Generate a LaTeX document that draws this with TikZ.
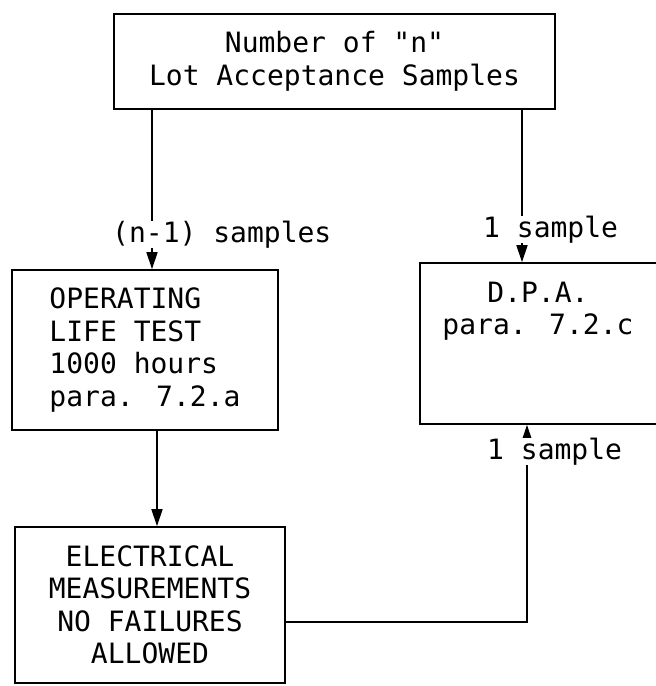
\documentclass[tikz,border=0pt]{standalone}
\usepackage{fontspec}
\usepackage{tikz}
\usetikzlibrary{arrows.meta, positioning, calc}
\newfontfamily\typewriter{DejaVu Sans Mono}

\begin{document}
\begin{tikzpicture}[
    x=1pt, y=-1pt,
    base/.style={draw, line width=1.6pt, fill=white, align=center, inner sep=0pt, font=\fontsize{28pt}{32.5pt}\selectfont\typewriter},
    plain/.style={align=center, inner sep=0pt, font=\fontsize{28pt}{32.5pt}\selectfont\typewriter},
    tag/.style={plain, fill=white},
    arrow/.style={-{Triangle[length=17pt, width=11pt]}, line width=1.6pt}
]

    % --- CANVAS ---
    \useasboundingbox (0,0) rectangle (656,686);
    \clip (0,0) rectangle (656,686);

    % --- TOP: LOT SAMPLES ---
    \node[base, minimum width=441pt, minimum height=95pt] (lot) at (334.5, 61.5) {Number of "n"\\ Lot Acceptance Samples};

    % --- MIDDLE: LIFE TEST AND D.P.A. ---
    \node[base, align=left, minimum width=266pt, minimum height=160pt] (ops) at (145, 350) {OPERATING\\ LIFE TEST\\ 1000 hours\\ para. 7.2.a};

    \node[base, minimum width=280pt, minimum height=161pt] (dpa) at (560, 343.5) {};
    \node[plain] (dpatext) at (538, 311) {D.P.A.\\ para. 7.2.c};

    % --- BOTTOM: ELECTRICAL ---
    \node[base, minimum width=270pt, minimum height=156pt] (elec) at (150, 605) {ELECTRICAL\\ MEASUREMENTS\\ NO FAILURES\\ ALLOWED};

    % --- CONNECTORS ---
    \coordinate (leftx) at (152, 0);
    \coordinate (rightx) at (522, 0);
    \coordinate (midx) at (157, 0);
    \coordinate (retx) at (527, 0);
    \coordinate (rety) at (0, 622);

    \draw[arrow] (lot.south -| leftx) -- (ops.north -| leftx);
    \node[tag, anchor=base west] (nsamples) at (112, 242) {(n-1) samples};

    \draw[arrow] (lot.south -| rightx) -- (dpa.north -| rightx);
    \node[tag, anchor=base west] (onetop) at (483, 237) {1 sample};

    \draw[arrow] (ops.south -| midx) -- (elec.north -| midx);

    \draw[arrow] (elec.east |- rety) -| (dpa.south -| retx);
    \node[tag, anchor=base west] (onebot) at (487, 459) {1 sample};

\end{tikzpicture}
\end{document}
